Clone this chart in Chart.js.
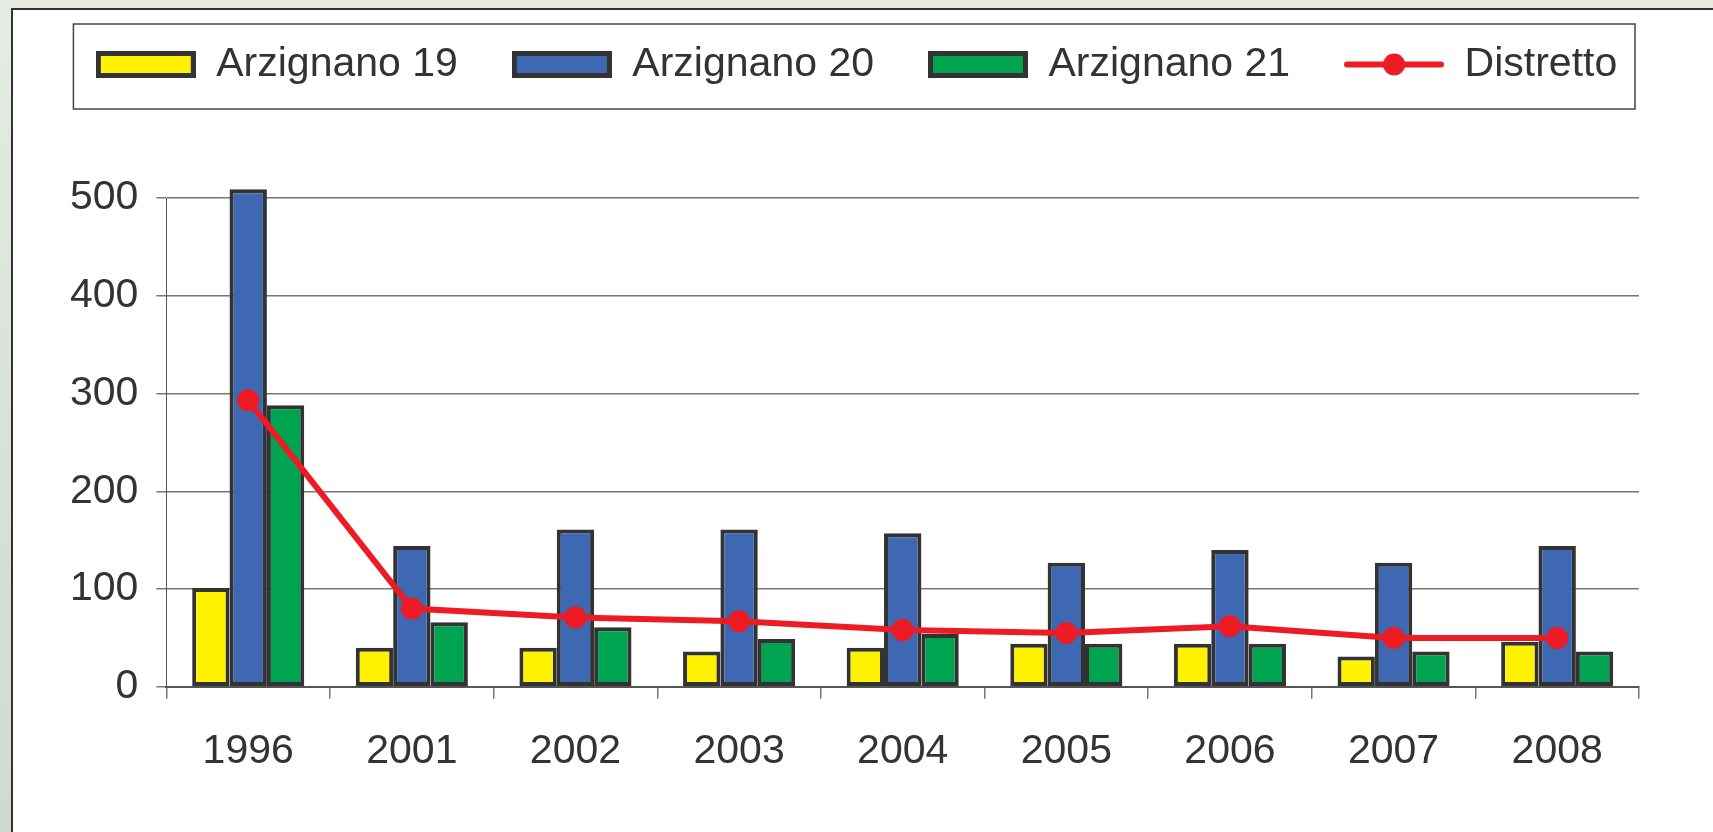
<!DOCTYPE html>
<html>
<head>
<meta charset="utf-8">
<script src="https://cdn.jsdelivr.net/npm/chart.js@4.4.1/dist/chart.umd.min.js"></script>
<style>
  html, body { margin: 0; padding: 0; }
  body {
    width: 1713px; height: 832px; overflow: hidden; position: relative;
    background: linear-gradient(180deg, #e6ece4 0%, #d9e2d8 50%, #cfdad1 100%);
  }
  #panel {
    position: absolute; left: 11px; top: 8px; right: 0; bottom: 0;
    background: #fff; border-left: 2px solid #333; border-top: 2px solid #333;
  }
  #myChart { position: absolute; left: 0; top: 0; }
</style>
</head>
<body>
<div id="panel"></div>
<canvas id="myChart" width="1713" height="832"></canvas>
<script>
const years = ["1996", "2001", "2002", "2003", "2004", "2005", "2006", "2007", "2008"];
const arzignano19 = [101, 40, 40, 36, 40, 44, 44, 31, 46];
const arzignano20 = [509, 144, 161, 161, 157, 127, 140, 127, 144];
const arzignano21 = [288, 66, 61, 49, 54, 44, 44, 36, 36];
const distretto = [293, 80, 71, 67, 58, 55, 62, 50, 50];
const yTicks = [0, 100, 200, 300, 400, 500];

const FONT = '"Liberation Sans", Arial, sans-serif';
const TXT = "#333333";
const EDGE = "#333333";
const YELLOW = "#FFF200";
const BLUE = "#3E68B1";
const GREEN = "#00A34F";
const RED = "#ED1C24";

// legend icons
function boxIcon(color) {
  const c = document.createElement("canvas");
  c.width = 100;
  c.height = 27;
  const g = c.getContext("2d");
  g.fillStyle = color;
  g.fillRect(0, 0, 100, 27);
  g.strokeStyle = EDGE;
  g.lineWidth = 5;
  g.strokeRect(2.5, 2.5, 95, 22);
  return c;
}
function lineIcon(color) {
  const c = document.createElement("canvas");
  c.width = 100;
  c.height = 27;
  const g = c.getContext("2d");
  g.strokeStyle = color;
  g.lineWidth = 6;
  g.lineCap = "round";
  g.beginPath();
  g.moveTo(3, 13.5);
  g.lineTo(97, 13.5);
  g.stroke();
  g.fillStyle = color;
  g.beginPath();
  g.arc(50, 13.5, 11, 0, Math.PI * 2);
  g.fill();
  return c;
}
const legendIcons = [boxIcon(YELLOW), boxIcon(BLUE), boxIcon(GREEN), lineIcon(RED)];

// keep the legend on one row, add room under it and lift it a bit
const legendSpace = {
  id: "legendSpace",
  beforeInit(chart) {
    const lg = chart.legend;
    const fit = lg.fit;
    lg.fit = function () {
      const mw = this.maxWidth;
      this.maxWidth = mw + 300;
      fit.call(this);
      this.maxWidth = mw;
      this.width = mw;
      this.height += 93;
    };
    const draw = lg.draw;
    lg.draw = function () {
      this.left -= 139;
      this.right += 161;
      draw.call(this);
      this.left += 139;
      this.right -= 161;
    };
  },
  afterLayout(chart) {
    chart.legend.top -= 10;
    chart.legend.bottom -= 10;
  },
};

// frame round the legend
const legendFrame = {
  id: "legendFrame",
  afterDraw(chart) {
    const ctx = chart.ctx;
    const left = chart.chartArea.left - 93;
    const right = chart.chartArea.right - 4;
    const mid = chart.legend.top + chart.legend.options.labels.padding + 20.5;
    ctx.save();
    ctx.strokeStyle = "#444";
    ctx.lineWidth = 1.5;
    ctx.strokeRect(left, mid - 40.5, right - left, 85);
    ctx.restore();
  },
};

const ctx = document.getElementById("myChart");

new Chart(ctx, {
  data: {
    labels: years,
    datasets: [
      {
        type: "bar",
        label: "Arzignano 19",
        data: arzignano19,
        backgroundColor: YELLOW,
        borderColor: EDGE,
        borderWidth: 4,
        borderSkipped: false,
        order: 1,
      },
      {
        type: "bar",
        label: "Arzignano 20",
        data: arzignano20,
        backgroundColor: BLUE,
        borderColor: EDGE,
        borderWidth: 4,
        borderSkipped: false,
        clip: { left: 0, top: 10, right: 0, bottom: 0 },
        order: 1,
      },
      {
        type: "bar",
        label: "Arzignano 21",
        data: arzignano21,
        backgroundColor: GREEN,
        borderColor: EDGE,
        borderWidth: 4,
        borderSkipped: false,
        order: 1,
      },
      {
        type: "line",
        label: "Distretto",
        data: distretto,
        borderColor: RED,
        backgroundColor: RED,
        borderWidth: 6,
        pointRadius: 11,
        pointBackgroundColor: RED,
        pointBorderWidth: 0,
        tension: 0,
        order: 0,
      },
    ],
  },
  options: {
    responsive: false,
    animation: false,
    datasets: {
      bar: { categoryPercentage: 0.685, barPercentage: 1 },
    },
    layout: { padding: { left: 52, right: 74, top: 0, bottom: 28 } },
    plugins: {
      tooltip: { enabled: false },
      legend: {
        display: true,
        position: "top",
        labels: {
          usePointStyle: true,
          pointStyleWidth: 100,
          boxHeight: 27,
          padding: 54,
          color: TXT,
          font: { family: FONT, size: 41 },
          sort: (a, b) => a.datasetIndex - b.datasetIndex,
          generateLabels(chart) {
            const items = Chart.defaults.plugins.legend.labels.generateLabels(chart);
            items.forEach((it) => {
              it.pointStyle = legendIcons[it.datasetIndex];
            });
            return items;
          },
        },
      },
    },
    scales: {
      x: {
        grid: {
          offset: true,
          drawOnChartArea: false,
          tickLength: 12,
          color: "#777",
          lineWidth: 1.5,
        },
        border: { color: "#555", width: 2 },
        ticks: { padding: 28, color: TXT, font: { family: FONT, size: 41 } },
      },
      y: {
        min: 0,
        max: 500,
        afterBuildTicks(axis) {
          axis.ticks = yTicks.map((v) => ({ value: v }));
        },
        ticks: { padding: 18, color: TXT, font: { family: FONT, size: 41 } },
        grid: { color: "#777", lineWidth: 1.5, tickLength: 10 },
        border: { color: "#555", width: 1 },
      },
    },
  },
  plugins: [legendSpace, legendFrame],
});
</script>
</body>
</html>
